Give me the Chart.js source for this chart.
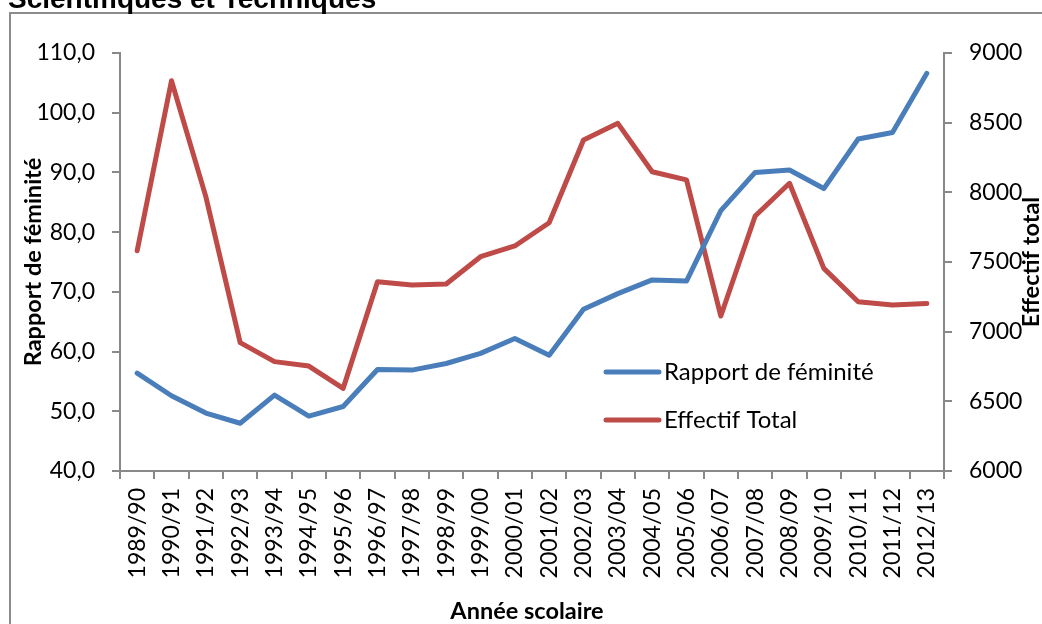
<!DOCTYPE html>
<html>
<head>
<meta charset="utf-8">
<script src="https://cdn.jsdelivr.net/npm/chart.js@4"></script>
<style>
  html, body { margin: 0; padding: 0; background: #fff; }
  canvas { display: block; }
</style>
</head>
<body>
<canvas id="myChart" width="1042" height="624"></canvas>
<script>
const years = ['1989/90', '1990/91', '1991/92', '1992/93', '1993/94', '1994/95', '1995/96', '1996/97',
  '1997/98', '1998/99', '1999/00', '2000/01', '2001/02', '2002/03', '2003/04', '2004/05', '2005/06',
  '2006/07', '2007/08', '2008/09', '2009/10', '2010/11', '2011/12', '2012/13'];

const rapportFeminite = [56.4, 52.6, 49.7, 48.0, 52.7, 49.2, 50.8, 57.0, 56.9, 58.0, 59.7, 62.2,
  59.4, 67.1, 69.7, 72.0, 71.8, 83.6, 90.0, 90.4, 87.3, 95.6, 96.7, 106.6];

const effectifTotal = [7581, 8801, 7969, 6921, 6785, 6753, 6593, 7359, 7335, 7342, 7538, 7615,
  7782, 8376, 8495, 8148, 8089, 7112, 7830, 8065, 7454, 7215, 7191, 7203];

const leftTicks = { min: 40, max: 110, step: 10 };
const rightTicks = { min: 6000, max: 9000, step: 500 };

const axisGray = '#898989';
const tickFont = { family: 'Lato', size: 23 };

// titles, frame and legend drawn by hand
const decorations = {
  id: 'decorations',
  afterDraw(chart) {
    const c = chart.ctx;
    const a = chart.chartArea;
    c.save();

    // outer frame
    c.strokeStyle = '#8c8c8c';
    c.lineWidth = 2;
    c.beginPath();
    c.moveTo(10, 700);
    c.lineTo(10, 13);
    c.lineTo(1100, 13);
    c.stroke();

    // cut off title
    c.fillStyle = '#000';
    c.font = 'bold 28px "Liberation Sans"';
    c.textAlign = 'left';
    c.textBaseline = 'alphabetic';
    c.fillText('Scientifiques et Techniques', 8, 8);

    const midY = (a.top + a.bottom) / 2;
    c.font = 'bold 23.5px Lato';
    c.textAlign = 'center';
    c.textBaseline = 'middle';

    c.save();
    c.translate(33, midY);
    c.rotate(-Math.PI / 2);
    c.fillText('Rapport de féminité', 0, 0);
    c.restore();

    c.save();
    c.translate(1031, midY);
    c.rotate(-Math.PI / 2);
    c.fillText('Effectif total', 0, 0);
    c.restore();

    c.fillText('Année scolaire', (a.left + a.right) / 2 - 5, 611);

    // legend
    c.font = '24px Lato';
    c.textAlign = 'left';
    chart.data.datasets.forEach((ds, i) => {
      const y = 372 + i * 48;
      c.strokeStyle = ds.borderColor;
      c.lineWidth = 5;
      c.lineCap = 'round';
      c.beginPath();
      c.moveTo(606, y);
      c.lineTo(659, y);
      c.stroke();
      c.fillStyle = '#000';
      c.fillText(ds.label, 664, y);
    });

    c.restore();
  }
};

new Chart(document.getElementById('myChart').getContext('2d'), {
  type: 'line',
  data: {
    labels: years,
    datasets: [{
      label: 'Rapport de féminité',
      data: rapportFeminite,
      yAxisID: 'y',
      borderColor: '#4A7EBB',
      borderWidth: 5,
      pointRadius: 0,
      borderCapStyle: 'round',
      borderJoinStyle: 'round',
      tension: 0
    }, {
      label: 'Effectif Total',
      data: effectifTotal,
      yAxisID: 'y1',
      borderColor: '#BE4B48',
      borderWidth: 5,
      pointRadius: 0,
      borderCapStyle: 'round',
      borderJoinStyle: 'round',
      tension: 0
    }]
  },
  options: {
    responsive: false,
    animation: false,
    layout: { padding: { top: 53, left: 0, right: 0, bottom: 0 } },
    plugins: {
      legend: { display: false },
      tooltip: { enabled: false }
    },
    scales: {
      x: {
        offset: true,
        grid: { offset: true, drawOnChartArea: false, color: axisGray, tickLength: 8, lineWidth: 2 },
        border: { color: axisGray, width: 2 },
        ticks: { color: '#000', font: tickFont, minRotation: 90, maxRotation: 90, padding: 9, autoSkip: false },
        afterFit(axis) { axis.height = 153; }
      },
      y: {
        position: 'left',
        min: leftTicks.min,
        max: leftTicks.max,
        grid: { drawOnChartArea: false, color: axisGray, tickLength: 8, lineWidth: 2 },
        border: { color: axisGray, width: 2 },
        ticks: {
          stepSize: leftTicks.step,
          color: '#000',
          font: tickFont,
          padding: 17,
          callback: v => v.toFixed(1).replace('.', ',')
        },
        afterFit(axis) { axis.width = 120; }
      },
      y1: {
        position: 'right',
        min: rightTicks.min,
        max: rightTicks.max,
        grid: { drawOnChartArea: false, color: axisGray, tickLength: 8, lineWidth: 2 },
        border: { color: axisGray, width: 2 },
        ticks: { stepSize: rightTicks.step, color: '#000', font: tickFont, padding: 17, callback: v => String(v) },
        afterFit(axis) { axis.width = 98; }
      }
    }
  },
  plugins: [decorations]
});
</script>
</body>
</html>
